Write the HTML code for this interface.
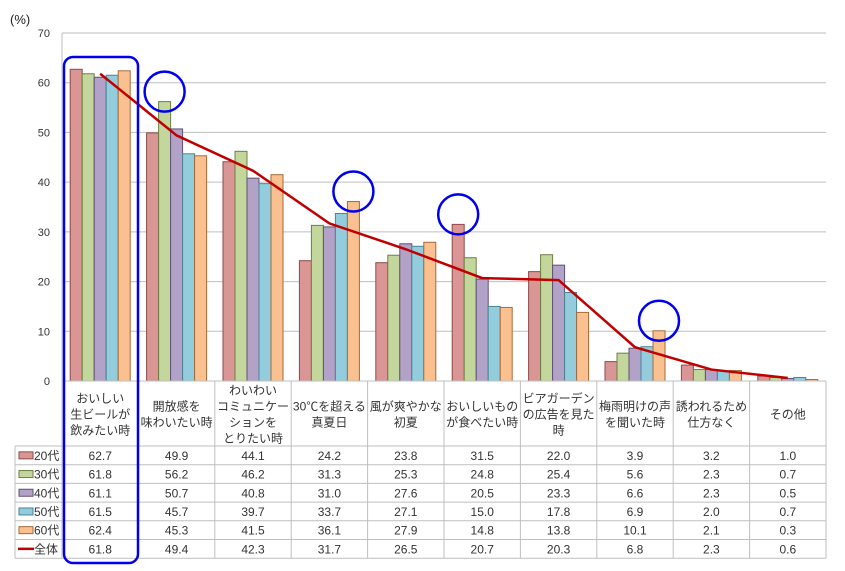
<!DOCTYPE html>
<html><head><meta charset="utf-8">
<style>
body{margin:0;background:#fff;}
svg{display:block;font-family:"Liberation Sans","Noto Sans CJK JP",sans-serif;}
</style></head>
<body>
<svg id="c" width="845" height="571"></svg>
<script>
const categories=[["おいしい","生ビールが","飲みたい時"],["開放感を","味わいたい時"],["わいわい","コミュニケー","ションを","とりたい時"],["30℃を超える","真夏日"],["風が爽やかな","初夏"],["おいしいもの","が食べたい時"],["ビアガーデン","の広告を見た","時"],["梅雨明けの声","を聞いた時"],["誘われるため","仕方なく"],["その他"]];
const seriesNames=["20代","30代","40代","50代","60代"];
const s20=[62.7,49.9,44.1,24.2,23.8,31.5,22.0,3.9,3.2,1.0];
const s30=[61.8,56.2,46.2,31.3,25.3,24.8,25.4,5.6,2.3,0.7];
const s40=[61.1,50.7,40.8,31.0,27.6,20.5,23.3,6.6,2.3,0.5];
const s50=[61.5,45.7,39.7,33.7,27.1,15.0,17.8,6.9,2.0,0.7];
const s60=[62.4,45.3,41.5,36.1,27.9,14.8,13.8,10.1,2.1,0.3];
const total=[61.8,49.4,42.3,31.7,26.5,20.7,20.3,6.8,2.3,0.6];
const yTicks=[0,10,20,30,40,50,60,70];

const svg=document.getElementById('c');
const NS='http://www.w3.org/2000/svg';
function mk(t,a,p){const e=document.createElementNS(NS,t);for(const k in a)e.setAttribute(k,a[k]);(p||svg).appendChild(e);return e;}
const X0=62,X1=826,Y0=381,YT=33,N=categories.length,CW=(X1-X0)/N;
const y=v=>Y0-(v/70)*(Y0-YT);
const cx=i=>X0+CW*(i+0.5);
const series=[s20,s30,s40,s50,s60];
const fills=["#d99694","#c3d69b","#b3a2c7","#93cddd","#fac090"];
const strokes=["#8c4a48","#6e7f45","#5f5077","#4a8595","#a56a3a"];

let t=mk('text',{x:10,y:24,'font-size':13,fill:'#222'});t.textContent='(%)';

yTicks.forEach(v=>{
  if(v>0){const l=mk('line',{x1:X0,x2:X1,y1:y(v),y2:y(v),stroke:'#bfbfbf'});}
  const tx=mk('text',{x:50,y:y(v)+4,'font-size':11,'text-anchor':'end',fill:'#333'});tx.textContent=v;
  
});
mk('line',{x1:X0,x2:X0,y1:YT,y2:Y0,stroke:'#bfbfbf'});
const bw=12;
series.forEach((s,k)=>{s.forEach((v,i)=>{
  const x=cx(i)-bw*2.5+k*bw;
  const r=mk('rect',{x:x,y:y(v),width:bw,height:Y0-y(v),fill:fills[k],stroke:strokes[k],'stroke-width':1});
  
  
});});
const pl=mk('polyline',{points:total.map((v,i)=>cx(i)+','+y(v)).join(' '),fill:'none',stroke:'#c00000','stroke-width':2.5});



// table
const TL=15,HB=446,RH=18.7,TB=HB+RH*6;
mk('line',{x1:X0,x2:X1,y1:Y0,y2:Y0,stroke:'#bfbfbf'});
for(let r=0;r<=6;r++){mk('line',{x1:TL,x2:X1,y1:HB+r*RH,y2:HB+r*RH,stroke:'#bfbfbf'});}
mk('line',{x1:TL,x2:TL,y1:HB,y2:TB,stroke:'#bfbfbf'});
for(let i=0;i<=N;i++){mk('line',{x1:X0+i*CW,x2:X0+i*CW,y1:Y0,y2:TB,stroke:'#bfbfbf'});}
categories.forEach((lines,i)=>{
  const n=lines.length,mid=(Y0+HB)/2;
  lines.forEach((s,j)=>{
    const tx=mk('text',{x:cx(i),y:mid+(j-(n-1)/2)*16+5,'font-size':12,'text-anchor':'middle',fill:'#333'});
    tx.textContent=s;
    
    
  });
});
const rows=[...series,total],names=[...seriesNames,"全体"];
rows.forEach((s,r)=>{
  const yy=HB+r*RH+RH/2;
  if(r<5){mk('rect',{x:19,y:yy-3.5,width:14,height:7,fill:fills[r],stroke:strokes[r]});}
  else{mk('line',{x1:18,x2:34,y1:yy,y2:yy,stroke:'#c00000','stroke-width':2.5});}
  const lt=mk('text',{x:34,y:yy+4.5,'font-size':12,fill:'#333'});lt.textContent=names[r];
  
  s.forEach((v,i)=>{
    const tx=mk('text',{x:cx(i),y:yy+4.5,'font-size':12,'text-anchor':'middle',fill:'#333'});
    tx.textContent=v.toFixed(1);
    
    
  });
});
// annotations
const hl=mk('rect',{x:64,y:57,width:74,height:506,rx:9,fill:'none',stroke:'#0000ee','stroke-width':2.5});

[[1,1],[3,4],[5,0],[7,4]].forEach(([i,k])=>{
  const v=series[k][i];
  const c=mk('circle',{cx:cx(i)-bw*2+k*bw,cy:y(v)-10,r:20,fill:'none',stroke:'#0000ee','stroke-width':2.5});
  
  
});
</script>
</body></html>
